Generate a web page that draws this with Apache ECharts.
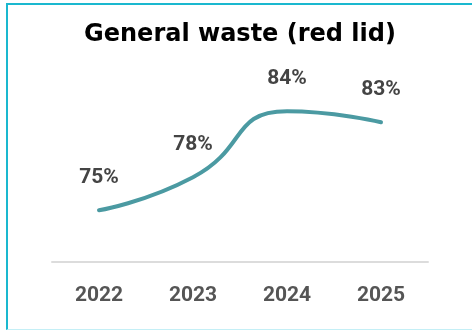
<!DOCTYPE html>
<html>
<head>
<meta charset="utf-8">
<script src="https://cdn.jsdelivr.net/npm/echarts@6/dist/echarts.min.js"></script>
<style>
html,body{margin:0;padding:0;background:#fff;width:472px;height:333px;overflow:hidden;}
#frame{position:absolute;left:6px;top:3px;width:466px;height:327px;border-left:2px solid #1ab8cf;border-top:2px solid #1ab8cf;border-bottom:1px solid #c4eff6;box-sizing:border-box;pointer-events:none;}
#chart{position:absolute;left:8px;top:0;width:464px;height:333px;}
</style>
</head>
<body>
<div id="chart"></div>
<div id="frame"></div>
<script>
const titleText = "General waste (red lid)";
const years = ["2022", "2023", "2024", "2025"];
const shares = [75, 78, 84, 83];

const chart = echarts.init(document.getElementById('chart'), null, {renderer: 'canvas'});
chart.setOption({
  animation: false,
  title: {
    text: titleText,
    left: 'center',
    top: 18,
    textStyle: {fontFamily: 'DejaVu Sans', fontWeight: 'bold', fontSize: 24, color: '#000'}
  },
  grid: {left: 44, right: 44, top: 60, bottom: 71},
  xAxis: {
    type: 'category',
    data: years,
    boundaryGap: true,
    axisLine: {lineStyle: {color: '#dcdcdc', width: 2}},
    axisTick: {show: false},
    axisLabel: {margin: 23, fontFamily: 'Roboto', fontWeight: 'bold', fontSize: 21, color: '#555'}
  },
  yAxis: {
    type: 'value',
    min: 70.3,
    max: 88.66,
    show: false,
    splitLine: {show: false}
  },
  series: [{
    type: 'line',
    data: shares,
    smooth: 0.55,
    showSymbol: true,
    symbol: 'circle',
    symbolSize: 1,
    itemStyle: {color: '#4b9aa2'},
    lineStyle: {color: '#4b9aa2', width: 4, cap: 'round'},
    label: {
      show: true,
      position: 'top',
      distance: 22,
      formatter: '{c}%',
      fontFamily: 'Roboto',
      fontWeight: 'bold',
      fontSize: 21,
      color: '#444'
    }
  }]
});
</script>
</body>
</html>
